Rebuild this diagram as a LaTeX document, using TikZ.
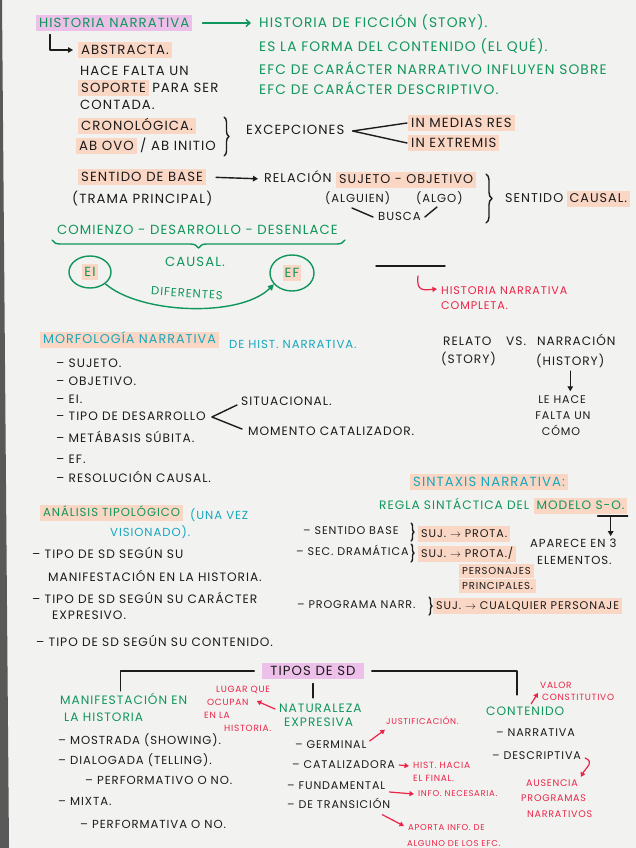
\documentclass[tikz,border=0pt]{standalone}
\usepackage{fontspec}
\setmainfont{Poppins}[LetterSpace=8]
\usetikzlibrary{arrows.meta,decorations.pathreplacing,shapes.geometric}
\definecolor{bgc}{RGB}{242,242,240}
\definecolor{ink}{RGB}{28,28,28}
\definecolor{grn}{RGB}{16,150,92}
\definecolor{teal}{RGB}{22,168,190}
\definecolor{rd}{RGB}{236,36,72}
\definecolor{peach}{RGB}{250,214,196}
\definecolor{pinkh}{RGB}{236,192,232}
\tikzset{
  fs/.style={font=\fontsize{\fpeval{1.06*#1}}{\fpeval{1.2*#1}}\selectfont, text height={0.76*#1 pt}, text depth={0.1*#1 pt}},
  tx/.style={anchor=west, inner sep=0pt, text=ink, fs=12.5},
  gtx/.style={tx, text=grn},
  ttx/.style={tx, text=teal},
  rtx/.style={tx, text=rd, fs=10.5},
  hl/.style={fill=peach, inner xsep=3pt, inner ysep=3pt},
  hlp/.style={fill=pinkh, inner xsep=3pt, inner ysep=3pt},
  ln/.style={draw=ink, line width=1.4pt, line cap=round, line join=round},
  arr/.style={ln, -{Triangle[length=5pt,width=5.5pt]}},
  garr/.style={draw=grn, line width=1.4pt, line cap=round, -{Straight Barb[length=4pt,width=7pt]}},
  rarr/.style={draw=rd, line width=1.2pt, line cap=round, -{Triangle[length=4.5pt,width=5pt]}},
  brc/.style={ln, decorate, decoration={brace, amplitude=#1}},
}
\begin{document}
\begin{tikzpicture}[x=1pt,y=-1pt]
\useasboundingbox (0,0) rectangle (636,848);
\fill[bgc] (0,0) rectangle (636,848);
\fill[black!65] (0,0) -- (2,0) -- (9,848) -- (0,848) -- cycle;

% ---------- top ----------
\node[gtx, hlp] (hn) at (36,23) {HISTORIA NARRATIVA};
\node[gtx, fs=13] (hf) at (259,23) {HISTORIA DE FICCIÓN (STORY).};
\draw[garr, shorten <=10pt, shorten >=8pt] (hn.east) -- (hf.west);
\node[gtx, fs=13] (g2) at (259,47) {ES LA FORMA DEL CONTENIDO (EL QUÉ).};
\node[gtx, fs=13] (g3) at (259,70) {EFC DE CARÁCTER NARRATIVO INFLUYEN SOBRE};
\node[gtx, fs=13] (g4) at (259,90) {EFC DE CARÁCTER DESCRIPTIVO.};

\node[tx, hl] (abs) at (78,50) {ABSTRACTA.};
\draw[arr, shorten >=5pt] ([xshift=14pt,yshift=-3pt]hn.south west) |- (abs.west);
\node[tx] (hf1) at (80,71) {HACE FALTA UN};
\node[tx, hl] (sop) at (78,88) {SOPORTE};
\node[tx] (pps) at ([xshift=3pt]sop.east) {PARA SER};
\node[tx] (cont) at (80,105) {CONTADA.};
\node[tx, hl] (cron) at (78,126) {CRONOLÓGICA.};
\node[tx, hl] (abovo) at (76,146) {AB OVO};
\node[tx] (abin) at ([xshift=3pt]abovo.east) {/ AB INITIO};
\draw[brc=5pt] (224,117) -- (224,156);
\node[tx] (exc) at (246,130) {EXCEPCIONES};
\node[tx, hl] (imr) at (408,123) {IN MEDIAS RES};
\node[tx, hl] (iex) at (408,143) {IN EXTREMIS};
\draw[ln] ([xshift=-1pt]imr.west) -- ([xshift=8pt,yshift=-1pt]exc.east) -- ([xshift=-1pt]iex.west);

\node[tx, hl] (sdb) at (78,177) {SENTIDO DE BASE};
\node[tx] (tp) at (72,199) {(TRAMA PRINCIPAL)};
\node[tx, fs=12] (rel) at (264,179) {RELACIÓN};
\draw[arr, shorten <=10pt, shorten >=6pt] (sdb.east) -- (rel.west);
\node[tx, hl, fs=12] (so) at (336,180) {SUJETO - OBJETIVO};
\node[tx, fs=11] (alg) at (325,199) {(ALGUIEN)};
\node[tx, fs=11] (algo) at (416,199) {(ALGO)};
\node[tx, fs=11] (bus) at (378,217) {BUSCA};
\draw[ln] (352,208) -- ([xshift=-5pt]bus.west);
\draw[ln] (437,207) -- ([xshift=4pt]bus.east);
\draw[brc=6pt] (486,174) -- (486,223);
\node[tx, fs=12] (sc) at (505,199) {SENTIDO};
\node[tx, hl, fs=12] (caus) at ([xshift=3pt]sc.east) {CAUSAL.};

% ---------- causal ----------
\node[gtx] (cdd) at (57,230) {COMIENZO - DESARROLLO - DESENLACE};
\draw[brc=8pt, draw=grn] (345,240) -- (52,240);
\node[gtx] (causal) at (165,262) {CAUSAL.};
\node[draw=grn, line width=1.4pt, ellipse, minimum width=42pt, minimum height=32pt] (ei) at (90,272) {};
\node[gtx, hl, anchor=center, inner xsep=2pt] (eit) at (ei.center) {EI};
\node[draw=grn, line width=1.4pt, ellipse, minimum width=44pt, minimum height=36pt] (ef) at (292,273) {};
\node[gtx, hl, anchor=center, inner xsep=2pt] (eft) at (ef.center) {EF};
\draw[draw=grn, line width=1.4pt, -{Triangle[length=6pt,width=6pt]}] (ei.south east) .. controls (140,314) and (240,318) .. ([xshift=-2pt,yshift=2pt]ef.south west);
\node[gtx, rotate=-4, fs=11] (dif) at (151,291) {DIFERENTES};

\draw[ln] (376,266) -- (445,266);
\node[rtx] (hnc) at (441,291) {HISTORIA NARRATIVA};
\node[rtx] (comp) at (441,306) {COMPLETA.};
\coordinate (rh) at (418,276);
\draw[rarr] (rh) .. controls (416,292) and (424,290) .. ([xshift=-4pt,yshift=2pt]hnc.west);

% ---------- morfologia ----------
\node[ttx, hl, fs=12] (morf) at (40,340) {MORFOLOGÍA NARRATIVA};
\node[ttx, fs=11] (dhn) at (229,345) {DE HIST. NARRATIVA.};
\node[tx, fs=11.5] (m1) at (56,364) {– SUJETO.};
\node[tx, fs=11.5] (m2) at (56,382) {– OBJETIVO.};
\node[tx, fs=11.5] (m3) at (56,400) {– EI.};
\node[tx, fs=11.5] (tdd) at (56,417) {– TIPO DE DESARROLLO};
\node[tx, fs=11.5] (m5) at (56,439) {– METÁBASIS SÚBITA.};
\node[tx, fs=11.5] (m6) at (56,460) {– EF.};
\node[tx, fs=11.5] (m7) at (56,479) {– RESOLUCIÓN CAUSAL.};
\node[tx, fs=11.5] (sit) at (241,402) {SITUACIONAL.};
\node[tx, fs=11.5] (mc) at (248,432) {MOMENTO CATALIZADOR.};
\draw[ln] ([xshift=-4pt,yshift=-3pt]sit.west) -- ([xshift=6pt]tdd.east) -- ([xshift=-6pt,yshift=3pt]mc.west);

% ---------- relato ----------
\node[tx, fs=11.5] (relato) at (443,342) {RELATO};
\node[tx, fs=11.5] (vs) at (506,342) {VS.};
\node[tx, fs=11.5] (narr) at (537,342) {NARRACIÓN};
\node[tx, fs=11.5] (story) at (441,360) {(STORY)};
\node[tx, fs=11.5] (hist) at (536,362) {(HISTORY)};
\node[tx, fs=10.5, anchor=center] (lh1) at (562,400) {LE HACE};
\node[tx, fs=10.5, anchor=center] (lh2) at (563,416) {FALTA UN};
\node[tx, fs=10.5, anchor=center] (lh3) at (561,432) {CÓMO};
\draw[arr, shorten <=4pt, shorten >=4pt] (hist.south) -- (hist.south |- lh1.north);

% ---------- sintaxis ----------
\node[ttx, hl] (sint) at (410,482) {SINTAXIS NARRATIVA:};
\node[gtx, fs=11.5] (regla) at (379,506) {REGLA SINTÁCTICA DEL};
\node[gtx, hl, fs=11.5] (mod) at ([xshift=4pt]regla.east) {MODELO S-O.};
\draw[ln] ([xshift=-30pt,yshift=-2pt]mod.south east) -- ([yshift=-2pt]mod.south east);
\coordinate (mo) at ([xshift=-17pt,yshift=-2pt]mod.south east);
\node[tx, fs=11] (ap) at (530,544) {APARECE EN 3};
\node[tx, fs=11] (el) at (537,561) {ELEMENTOS.};
\draw[arr] (mo) -- ([yshift=3pt]mo |- ap.north);

\node[tx, fs=10.5] (sb) at (303,531) {– SENTIDO BASE};
\draw[brc=3pt] (411,523) -- (411,541);
\node[tx, hl, fs=10.5] (sj1) at (418,534) {SUJ. $\rightarrow$ PROTA.};
\node[tx, fs=10.5] (sdr) at (296,552) {– SEC. DRAMÁTICA};
\draw[brc=3pt] (411,544) -- (411,562);
\node[tx, hl, fs=10.5] (sj2) at (418,554) {SUJ. $\rightarrow$ PROTA./};
\node[tx, hl, fs=9.5] (pers) at (459,571) {PERSONAJES};
\node[tx, hl, fs=9.5] (prin) at (459,586) {PRINCIPALES.};
\node[tx, fs=10.5] (pn) at (297,605) {– PROGRAMA NARR.};
\draw[brc=3pt] (429,597) -- (429,615);
\node[tx, hl, fs=10.5] (sj3) at (433,606) {SUJ. $\rightarrow$ CUALQUIER PERSONAJE};

% ---------- analisis ----------
\node[gtx, hl, fs=11] (an) at (40,513) {ANÁLISIS TIPOLÓGICO};
\node[ttx, fs=11] (uv) at (190,516) {(UNA VEZ};
\node[ttx, fs=11] (vis) at (110,533) {VISIONADO).};
\node[tx, fs=11.5] (a1) at (32,555) {– TIPO DE SD SEGÚN SU};
\node[tx, fs=11.5] (a1b) at (48,578) {MANIFESTACIÓN EN LA HISTORIA.};
\node[tx, fs=11.5] (a2) at (32,600) {– TIPO DE SD SEGÚN SU CARÁCTER};
\node[tx, fs=11.5] (a2b) at (52,616) {EXPRESIVO.};
\node[tx, fs=11.5] (a3) at (36,643) {– TIPO DE SD SEGÚN SU CONTENIDO.};

% ---------- tipos de SD ----------
\node[tx, hlp, anchor=center, inner xsep=8pt, fs=12.5] (tsd) at (313,671) {TIPOS DE SD};
\node[gtx, fs=11.5] (man) at (60,701) {MANIFESTACIÓN EN};
\node[gtx, fs=11.5] (man2) at (64,718) {LA HISTORIA};
\node[gtx, fs=11.5] (nat) at (279,709) {NATURALEZA};
\node[gtx, fs=11.5] (nat2) at (284,723) {EXPRESIVA};
\node[gtx, fs=11.5] (con) at (486,712) {CONTENIDO};
\draw[ln, shorten <=8pt, shorten >=5pt] (tsd.west) -| ([xshift=-3pt]man.north);
\draw[ln, shorten <=8pt, shorten >=12pt] (tsd.east) -| ([xshift=-8pt]con.north);
\draw[ln, shorten <=4pt, shorten >=6pt] (tsd.south) -- (tsd.south |- nat.north);

\node[rtx, fs=8.5] (lq) at (216,690) {LUGAR QUE};
\node[rtx, fs=8.5] (ocu) at (207,703) {OCUPAN};
\node[rtx, fs=8.5] (enla) at (204,716) {EN LA};
\node[rtx, fs=8.5] (hla) at (224,729) {HISTORIA.};
\draw[rarr] ([xshift=-4pt]nat.west) -- ([xshift=8pt,yshift=2pt]ocu.east);

\node[tx, fs=11] (ms) at (58,741) {– MOSTRADA (SHOWING).};
\node[tx, fs=11] (dg) at (58,761) {– DIALOGADA (TELLING).};
\node[tx, fs=11] (pf1) at (85,781) {– PERFORMATIVO O NO.};
\node[tx, fs=11] (mx) at (58,802) {– MIXTA.};
\node[tx, fs=11] (pf2) at (80,825) {– PERFORMATIVA O NO.};

\node[tx, fs=10.5] (germ) at (295,745) {– GERMINAL};
\node[tx, fs=10.5] (cat) at (292,765) {– CATALIZADORA};
\node[tx, fs=10.5] (fund) at (287,786) {– FUNDAMENTAL};
\node[tx, fs=10.5] (trans) at (287,805) {– DE TRANSICIÓN};
\node[rtx, fs=8] (just) at (386,722) {JUSTIFICACIÓN.};
\draw[rarr] ([xshift=3pt,yshift=4pt]germ.east) -- ([xshift=-1pt,yshift=-4pt]just.south west);
\node[rtx, fs=8.5] (hh) at (413,766) {HIST. HACIA};
\node[rtx, fs=8.5] (efin) at (413,779) {EL FINAL.};
\draw[rarr] ([xshift=4pt]cat.east) -- ([xshift=-4pt]hh.west);
\node[rtx, fs=8] (info) at (418,794) {INFO. NECESARIA.};
\draw[rarr] ([xshift=4pt,yshift=-6pt]fund.east) -- ([xshift=-4pt]info.west);
\node[rtx, fs=8] (apo) at (408,828) {APORTA INFO. DE};
\node[rtx, fs=8] (alg2) at (407,844) {ALGUNO DE LOS EFC.};
\draw[rarr] ([xshift=-8pt,yshift=-5pt]trans.south east) -- ([xshift=-4pt,yshift=2pt]apo.west);

\node[tx, fs=10.5] (nar) at (496,733) {– NARRATIVA};
\node[tx, fs=10.5] (desc) at (492,756) {– DESCRIPTIVA};
\node[rtx, fs=8.5] (val) at (540,686) {VALOR};
\node[rtx, fs=8.5] (cons) at (542,698) {CONSTITUTIVO};
\draw[rarr] ([xshift=6pt,yshift=3pt]con.north) -- ([xshift=-2pt,yshift=-3pt]val.south west);
\node[rtx, fs=9] (aus) at (526,784) {AUSENCIA};
\node[rtx, fs=9] (prog) at (521,799) {PROGRAMAS};
\node[rtx, fs=9] (narv) at (527,815) {NARRATIVOS};
\draw[rarr] ([xshift=4pt,yshift=-2pt]desc.east) .. controls +(10,4) and +(4,-8) .. ([xshift=3pt,yshift=3pt]aus.north east);
\end{tikzpicture}
\end{document}
